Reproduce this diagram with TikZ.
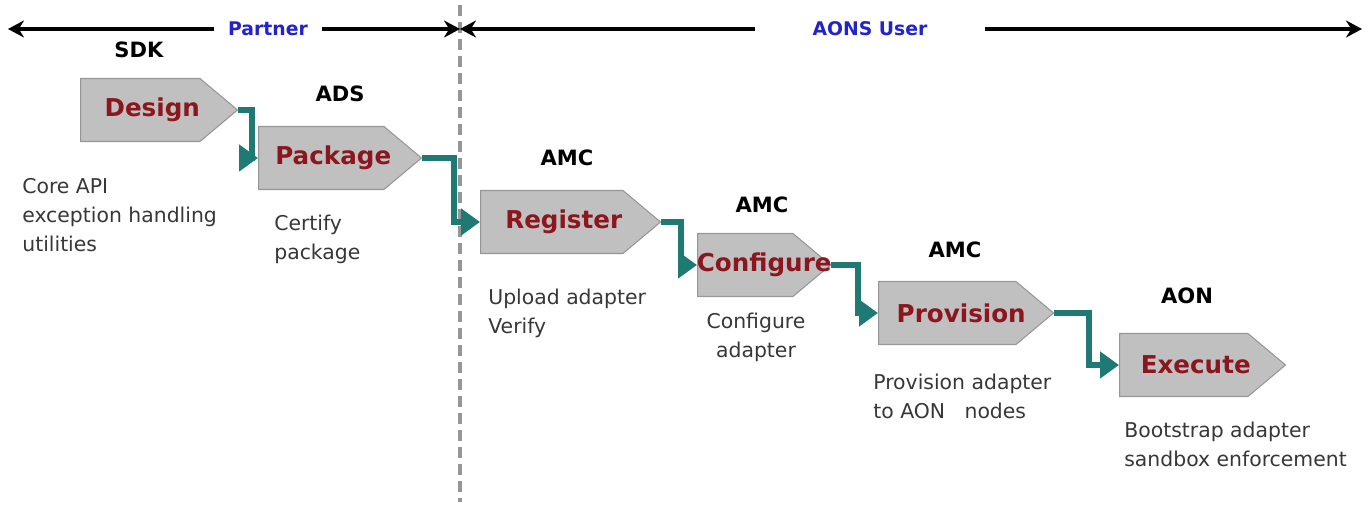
\documentclass[tikz,border=0pt]{standalone}
\usepackage{fontspec}
\setmainfont{DejaVu Sans}
\usetikzlibrary{shapes.symbols,arrows.meta}

\definecolor{stepred}{RGB}{140,22,30}
\definecolor{flowteal}{RGB}{31,122,115}
\definecolor{roleblue}{RGB}{35,35,205}
\definecolor{stagefill}{RGB}{192,192,192}
\definecolor{stageline}{RGB}{150,150,150}
\definecolor{desctext}{RGB}{55,55,55}

\begin{document}
\begin{tikzpicture}[x=0.02cm,y=-0.02cm]
          \useasboundingbox (0,0) rectangle (1369,506);
          \tikzset{
            stage/.style={signal, signal to=east, signal pointer angle=80,
              fill=stagefill, draw=stageline, line width=0.6pt,
              minimum height=1.26cm, inner sep=0pt, anchor=west},
            stagetext/.style={text=stepred, inner sep=0pt, xshift=0.24cm,
              font=\bfseries\fontsize{14}{16}\selectfont},
            tool/.style={font=\bfseries\fontsize{12}{14}\selectfont},
            desc/.style={text=desctext, align=left, anchor=north west, inner sep=0pt,
              font=\fontsize{11.6}{16.5}\selectfont},
            role/.style={text=roleblue, fill=white, inner ysep=2pt,
              font=\bfseries\fontsize{10.7}{13}\selectfont},
            span/.style={line width=2.8pt, {Stealth[length=0.32cm,width=0.34cm]}-{Stealth[length=0.32cm,width=0.34cm]}},
            divider/.style={draw=stageline, line width=2.2pt, dash pattern=on 0.22cm off 0.12cm},
            flow/.style={draw=flowteal, line width=3.4pt, -{Triangle[length=0.38cm,width=0.52cm]}}
          }

          % partner / user split
          \draw[divider] (460,5) -- (460,502);
          \coordinate (pleft) at (8,29);
          \coordinate (split) at (460,29);
          \coordinate (pright) at (1362,29);
          \draw[span] (pleft) -- (split);
          \draw[span] (split) -- (pright);
          \node[role, inner xsep=0.29cm] (partner) at (268,29) {Partner};
          \node[role, inner xsep=1.16cm] (aonsuser) at (870,29) {AONS User};

          % stages
          \node[stage, minimum width=3.14cm, label={[stagetext]center:Design}] (design) at (80,110) {};
          \node[stage, minimum width=3.26cm, label={[stagetext]center:Package}] (package) at (258,158) {};
          \node[stage, minimum width=3.6cm, label={[stagetext]center:Register}] (register) at (480,222) {};
          \node[stage, minimum width=2.66cm, label={[stagetext, xshift=0.14cm]center:Configure}] (configure) at (697,265) {};
          \node[stage, minimum width=3.5cm, label={[stagetext, xshift=0.04cm]center:Provision}] (provision) at (878,313) {};
          \node[stage, minimum width=3.32cm, label={[stagetext]center:Execute}] (execute) at (1119,365) {};

          % tools
          \node[tool] (sdk) at (139,50) {SDK};
          \node[tool] (ads) at (340,94) {ADS};
          \node[tool] (amcreg) at (567,158) {AMC};
          \node[tool] (amcconf) at (762,205) {AMC};
          \node[tool] (amcprov) at (955,250) {AMC};
          \node[tool] (aon) at (1187,296) {AON};

          % what happens at each stage
          \node[desc] (designtxt) at (22,178) {Core API\\exception handling\\utilities};
          \node[desc] (packagetxt) at (274,215) {Certify\\package};
          \node[desc] (registertxt) at (488,289) {Upload adapter\\Verify};
          \node[desc, align=center, anchor=north] (configuretxt) at (756,313) {Configure\\adapter};
          \node[desc] (provisiontxt) at (873,374) {Provision adapter\\to AON~~~nodes};
          \node[desc] (executetxt) at (1124,422) {Bootstrap adapter\\sandbox enforcement};

          % flow between stages
          \draw[flow] (design.east) -- ++(14,0) |- (package.west);
          \draw[flow] (package.east) -- ++(32,0) |- (register.west);
          \draw[flow] (register.east) -- ++(20,0) |- (configure.west);
          \draw[flow] (configure.east) -- ++(27,0) |- (provision.west);
          \draw[flow] (provision.east) -- ++(35,0) |- (execute.west);
\end{tikzpicture}
\end{document}
